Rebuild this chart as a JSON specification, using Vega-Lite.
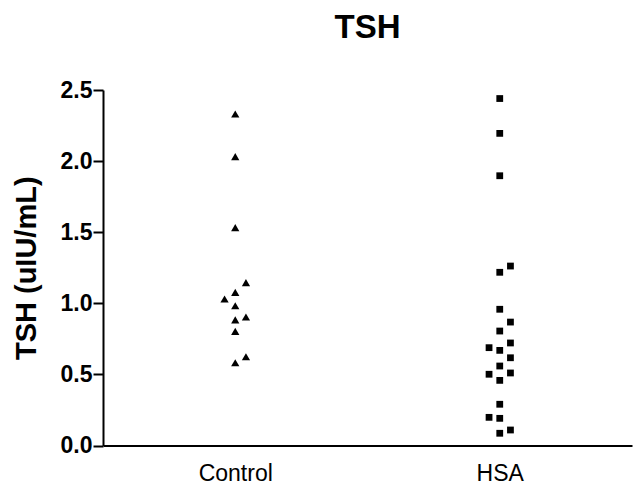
{
  "$schema": "https://vega.github.io/schema/vega-lite/v6.json",
  "autosize": "none",
  "width": 529,
  "height": 355.5,
  "padding": {"left": 103, "top": 90, "right": 1, "bottom": 40.5},
  "background": "white",
  "title": {
    "text": "TSH",
    "font": "Liberation Sans",
    "fontSize": 33,
    "fontWeight": "bold",
    "color": "black",
    "anchor": "middle",
    "baseline": "alphabetic",
    "offset": 8
  },
  "data": {
    "values": [
      {"group": "Control", "tsh": 2.331, "col": 0},
      {"group": "Control", "tsh": 2.031, "col": 0},
      {"group": "Control", "tsh": 1.532, "col": 0},
      {"group": "Control", "tsh": 1.145, "col": 1},
      {"group": "Control", "tsh": 1.077, "col": 0},
      {"group": "Control", "tsh": 1.030, "col": -1},
      {"group": "Control", "tsh": 0.983, "col": 0},
      {"group": "Control", "tsh": 0.904, "col": 1},
      {"group": "Control", "tsh": 0.883, "col": 0},
      {"group": "Control", "tsh": 0.803, "col": 0},
      {"group": "Control", "tsh": 0.624, "col": 1},
      {"group": "Control", "tsh": 0.582, "col": 0},
      {"group": "HSA", "tsh": 2.44, "col": 0},
      {"group": "HSA", "tsh": 2.195, "col": 0},
      {"group": "HSA", "tsh": 1.897, "col": 0},
      {"group": "HSA", "tsh": 1.262, "col": 1},
      {"group": "HSA", "tsh": 1.218, "col": 0},
      {"group": "HSA", "tsh": 0.958, "col": 0},
      {"group": "HSA", "tsh": 0.868, "col": 1},
      {"group": "HSA", "tsh": 0.805, "col": 0},
      {"group": "HSA", "tsh": 0.721, "col": 1},
      {"group": "HSA", "tsh": 0.688, "col": -1},
      {"group": "HSA", "tsh": 0.669, "col": 0},
      {"group": "HSA", "tsh": 0.617, "col": 1},
      {"group": "HSA", "tsh": 0.559, "col": 0},
      {"group": "HSA", "tsh": 0.510, "col": 1},
      {"group": "HSA", "tsh": 0.501, "col": -1},
      {"group": "HSA", "tsh": 0.458, "col": 0},
      {"group": "HSA", "tsh": 0.290, "col": 0},
      {"group": "HSA", "tsh": 0.198, "col": -1},
      {"group": "HSA", "tsh": 0.191, "col": 0},
      {"group": "HSA", "tsh": 0.109, "col": 1},
      {"group": "HSA", "tsh": 0.086, "col": 0}
    ]
  },
  "mark": {"type": "point", "filled": true, "opacity": 1, "color": "black"},
  "encoding": {
    "x": {
      "field": "group",
      "type": "nominal",
      "sort": ["Control", "HSA"],
      "scale": {"type": "point", "padding": 0.5},
      "axis": {
        "title": null,
        "labelAngle": 0,
        "labelFont": "Liberation Sans",
        "labelFontSize": 23,
        "labelColor": "black",
        "labelPadding": 17,
        "ticks": false,
        "domainColor": "black",
        "domainWidth": 2,
        "grid": false
      }
    },
    "xOffset": {
      "field": "col",
      "type": "quantitative",
      "scale": {"domain": [-1, 1], "range": [-10.7, 10.7]}
    },
    "y": {
      "field": "tsh",
      "type": "quantitative",
      "scale": {"domain": [0, 2.5], "nice": false, "zero": true},
      "axis": {
        "title": "TSH (uIU/mL)",
        "titleFont": "Liberation Sans",
        "titleFontSize": 29,
        "titleFontWeight": "bold",
        "titleColor": "black",
        "titlePadding": 19,
        "values": [0, 0.5, 1, 1.5, 2, 2.5],
        "format": ".1f",
        "labelFont": "Liberation Sans",
        "labelFontSize": 23,
        "labelFontWeight": "bold",
        "labelColor": "black",
        "labelPadding": 1,
        "tickSize": 10,
        "tickWidth": 2,
        "tickColor": "black",
        "domainColor": "black",
        "domainWidth": 2,
        "grid": false
      }
    },
    "shape": {
      "field": "group",
      "type": "nominal",
      "scale": {"domain": ["Control", "HSA"], "range": ["triangle-up", "square"]},
      "legend": null
    },
    "size": {
      "field": "group",
      "type": "nominal",
      "scale": {"domain": ["Control", "HSA"], "range": [68, 46]},
      "legend": null
    }
  },
  "config": {"view": {"stroke": null}}
}
